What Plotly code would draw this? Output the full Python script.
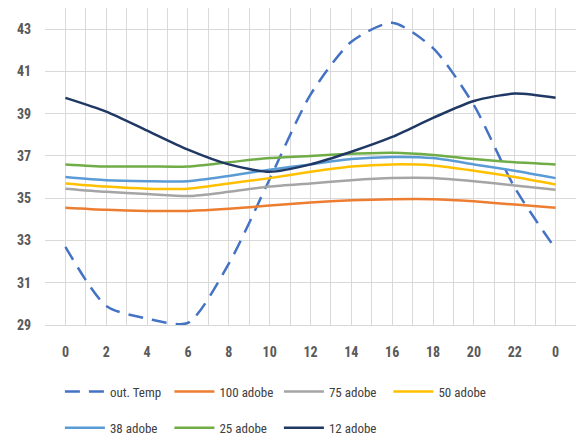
import plotly.graph_objects as go

hours = ["0", "2", "4", "6", "8", "10", "12", "14", "16", "18", "20", "22", "0"]
out_temp = [32.7, 29.9, 29.3, 29.1, 31.9, 35.9, 39.9, 42.4, 43.3, 42.1, 39.4, 35.5, 32.6]
adobe_100 = [34.55, 34.45, 34.4, 34.4, 34.5, 34.65, 34.8, 34.9, 34.95, 34.95, 34.85, 34.7, 34.55]
adobe_75 = [35.45, 35.3, 35.2, 35.1, 35.3, 35.55, 35.7, 35.85, 35.95, 35.95, 35.8, 35.6, 35.4]
adobe_50 = [35.7, 35.55, 35.45, 35.45, 35.7, 35.95, 36.25, 36.5, 36.6, 36.55, 36.3, 36.0, 35.65]
adobe_38 = [36.0, 35.85, 35.8, 35.8, 36.05, 36.35, 36.6, 36.85, 36.95, 36.9, 36.6, 36.3, 35.95]
adobe_25 = [36.6, 36.5, 36.5, 36.5, 36.7, 36.9, 37.0, 37.1, 37.15, 37.05, 36.85, 36.7, 36.6]
adobe_12 = [39.75, 39.1, 38.2, 37.3, 36.6, 36.25, 36.6, 37.2, 37.9, 38.8, 39.6, 39.95, 39.75]
y_ticks = [29, 31, 33, 35, 37, 39, 41, 43]

series = [
    ("out. Temp", out_temp, "#4472C4", "15px,9px", "legend"),
    ("100 adobe", adobe_100, "#ED7D31", "solid", "legend"),
    ("75 adobe", adobe_75, "#A5A5A5", "solid", "legend"),
    ("50 adobe", adobe_50, "#FFC000", "solid", "legend"),
    ("38 adobe", adobe_38, "#5B9BD5", "solid", "legend2"),
    ("25 adobe", adobe_25, "#70AD47", "solid", "legend2"),
    ("12 adobe", adobe_12, "#203864", "solid", "legend2"),
]

xs = list(range(len(hours)))
fig = go.Figure()
for name, vals, color, dash, leg in series:
    fig.add_trace(go.Scatter(
        x=xs, y=vals, name=name, mode="lines",
        line=dict(color=color, width=2.5, dash=dash, shape="spline", smoothing=0.7),
        legend=leg,
    ))

font_family = "Liberation Sans Narrow, Arial Narrow, Roboto Condensed, Roboto, sans-serif"

leg_common = dict(orientation="h", xref="container", yref="container",
                  xanchor="left", yanchor="middle",
                  entrywidth=54.5, entrywidthmode="pixels", itemwidth=40,
                  font=dict(family=font_family, size=13, color="#404040"),
                  bgcolor="rgba(0,0,0,0)")

fig.update_layout(
    width=576, height=441,
    margin=dict(l=45, r=0, t=8, b=116, autoexpand=False),
    paper_bgcolor="white", plot_bgcolor="white",
    font=dict(family=font_family, size=14, color="#404040"),
    showlegend=True,
    legend=dict(x=0.104, y=0.112, **leg_common),
    legend2=dict(x=0.104, y=0.03, **leg_common),
)

fig.update_xaxes(
    range=[-0.5, 12.5], tickvals=xs, ticktext=hours,
    showgrid=True, gridcolor="#D9D9D9", gridwidth=1,
    minor=dict(dtick=0.5, tick0=0, showgrid=True, gridcolor="#D9D9D9", gridwidth=1),
    ticks="outside", ticklen=14, tickcolor="rgba(0,0,0,0)",
    showline=True, linecolor="#D9D9D9", linewidth=1,
    zeroline=False, automargin=False,
    tickfont=dict(family=font_family, size=14, color="#595959", weight="bold"),
)
fig.update_yaxes(
    range=[29, 44], tickvals=y_ticks,
    showgrid=True, gridcolor="#D9D9D9", gridwidth=1,
    ticks="outside", ticklen=10, tickcolor="rgba(0,0,0,0)",
    zeroline=False, showline=False, automargin=False,
    tickfont=dict(family=font_family, size=14, color="#595959", weight="bold"),
)

fig.write_html("out.html")
